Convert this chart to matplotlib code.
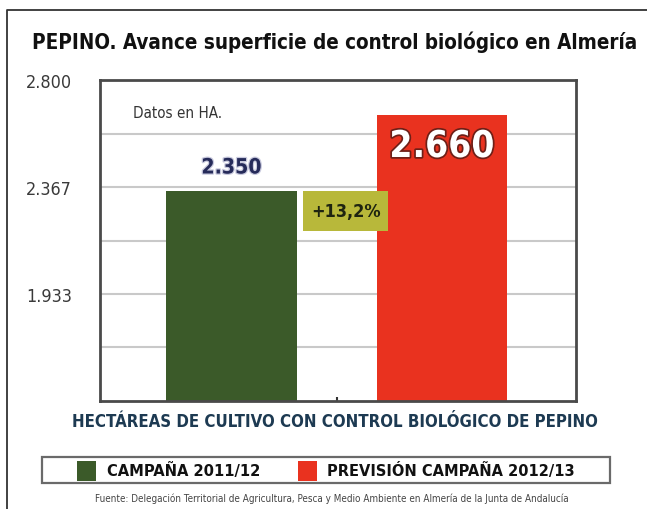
import numpy as np
import matplotlib.pyplot as plt
from matplotlib import font_manager as fm
from matplotlib import patheffects as pe
from matplotlib.patches import Rectangle
from matplotlib.lines import Line2D


def _is_bold(w):
    if isinstance(w, str):
        return w in ('bold', 'heavy', 'black', 'extra bold', 'demibold', 'semibold')
    return w >= 600


def pick_narrow():
    # prefer a narrow / condensed face that also has a bold weight
    faces = {}
    for f in fm.fontManager.ttflist:
        low = f.name.lower()
        st = f.stretch
        narrow = ('narrow' in low or 'condensed' in low or
                  st in ('condensed', 'semi-condensed', 'extra-condensed') or
                  (isinstance(st, int) and st < 500))
        if narrow:
            key = (f.name, 'normal' if ('narrow' in low or 'condensed' in low) else 'condensed')
            faces.setdefault(key, set()).add(_is_bold(f.weight))
    with_bold = [k for k, v in faces.items() if True in v]
    if with_bold:
        return with_bold[0]
    if faces:
        return next(iter(faces))
    return 'DejaVu Sans', 'normal'


family, stretch = pick_narrow()
plt.rcParams['font.family'] = [family, 'DejaVu Sans']
plt.rcParams['font.stretch'] = stretch

# Hectares under biological control, cucumber, Almería
campaigns = ['CAMPAÑA 2011/12', 'PREVISIÓN CAMPAÑA 2012/13']
hectares = [2350, 2660]
value_labels = ['2.350', '2.660']
bar_colors = ['#3b5a29', '#e9321f']

ytick_values = [1933.3, 2366.7, 2800]
ytick_labels = ['1.933', '2.367', '2.800']
grid_values = [1716.7, 1933.3, 2150.0, 2366.7, 2583.3]

W, H = 647, 510
fig = plt.figure(figsize=(W / 100, H / 100), dpi=100)
ax = fig.add_axes([100 / W, 1 - 402 / H, 476 / W, 321 / H])

x = np.arange(len(hectares))
bars = ax.bar(x, hectares, width=0.62, color=bar_colors, zorder=2)
ax.set_xlim(-0.625, 1.637)
ax.set_ylim(1500, 2800)

for g in grid_values:
    ax.axhline(g, color='#c9c9c9', lw=1.5, zorder=1)

ax.set_yticks(ytick_values, ytick_labels)
ax.tick_params(axis='y', length=0, pad=20, labelsize=13, labelcolor='#3a3a3a')
ax.set_xticks([0.5], [''])
ax.tick_params(axis='x', direction='in', length=3, width=1.5, color='#333333')
for s in ax.spines.values():
    s.set_color('#4a4a4a')
    s.set_linewidth(2)

# value labels
lbl_old = ax.annotate(value_labels[0], (x[0], hectares[0]), xytext=(0, 17), textcoords='offset points',
                      ha='center', va='center', fontsize=17, fontweight='bold', color='#262b5a',
                      path_effects=[pe.withStroke(linewidth=1.8, foreground='#c9cade')])
lbl_new = ax.annotate(value_labels[1], (x[1], hectares[1]), xytext=(0, -23), textcoords='offset points',
                      ha='center', va='center', fontsize=28, fontweight='bold', color='white',
                      path_effects=[pe.withStroke(linewidth=2.5, foreground='#6e1f17')])

# growth box between the bars
pct = (hectares[1] / hectares[0] - 1) * 100
box = Rectangle((0.34, 2188), 0.405, hectares[0] - 2188, facecolor='#b8b83a',
                edgecolor='none', zorder=3)
ax.add_patch(box)
pct_txt = ax.text(0.34 + 0.405 / 2, (2188 + hectares[0]) / 2, f'+{pct:.1f}%'.replace('.', ','),
                  ha='center', va='center', fontsize=12.5, fontweight='bold', color='#1e2410', zorder=4)

note = ax.text(0.069, 0.9, 'Datos en HA.', transform=ax.transAxes, fontsize=12,
               va='center', color='#333333')

title = fig.text(32 / W, 1 - 42 / H, 'PEPINO. Avance superficie de control biológico en Almería',
                 ha='left', va='center', fontsize=16, fontweight='bold', color='#111111')
subtitle = fig.text(335 / W, 1 - 422 / H, 'HECTÁREAS DE CULTIVO CON CONTROL BIOLÓGICO DE PEPINO',
                    ha='center', va='center', fontsize=13.5, fontweight='bold', color='#1d3a52')

# legend drawn by hand inside a grey frame
fig.add_artist(Rectangle((42 / W, 1 - 484 / H), 568 / W, 26 / H, transform=fig.transFigure,
                         facecolor='white', edgecolor='#6a6a6a', lw=1.6))
leg_sq_x = [77, 298]
leg_txt_x = [107, 327]
leg_txt_w = [153, 245]
leg_texts = []
for i in range(2):
    fig.add_artist(Rectangle((leg_sq_x[i] / W, 1 - 482 / H), 19 / W, 20 / H,
                             transform=fig.transFigure, facecolor=bar_colors[i], edgecolor='none'))
    leg_texts.append(fig.text(leg_txt_x[i] / W, 1 - 471 / H, campaigns[i], ha='left', va='center',
                              fontsize=13, fontweight='bold', color='#111111'))

source = fig.text(332 / W, 1 - 499 / H,
                  'Fuente: Delegación Territorial de Agricultura, Pesca y Medio Ambiente en Almería de la Junta de Andalucía',
                  ha='center', va='center', fontsize=7, color='#444444')

# outer frame (top and left edges)
fig.add_artist(Line2D([7 / W, 7 / W, 1], [0, 1 - 11 / H, 1 - 11 / H],
                      transform=fig.transFigure, color='#333333', lw=1.3))

# scale text sizes so each string spans its target width in pixels
fig.canvas.draw()
renderer = fig.canvas.get_renderer()
targets = [(title, 608), (subtitle, 526), (source, 475), (note, 89),
           (lbl_old, 60), (lbl_new, 105), (pct_txt, 70),
           (leg_texts[0], leg_txt_w[0]), (leg_texts[1], leg_txt_w[1])]
for t, w in targets:
    bw = t.get_window_extent(renderer).width
    t.set_fontsize(t.get_fontsize() * w / bw)
tick_w = ax.get_yticklabels()[-1].get_window_extent(renderer).width
ax.tick_params(axis='y', labelsize=13 * 46 / tick_w, pad=20)

fig.savefig('out.png', dpi=100, facecolor='white')
